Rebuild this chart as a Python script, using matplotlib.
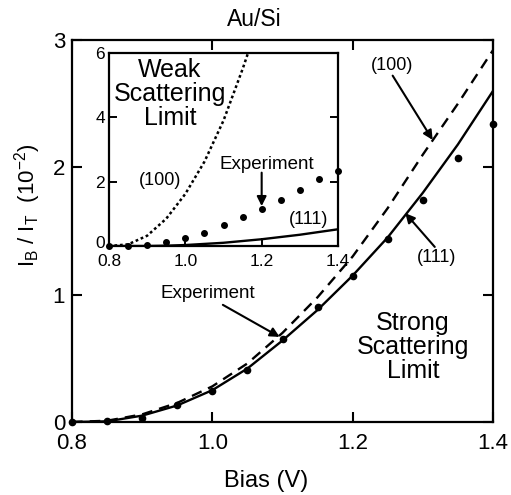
import matplotlib
matplotlib.use("Agg")
import matplotlib.pyplot as plt
import matplotlib.transforms as mtransforms
import numpy as np

plt.rcParams["font.family"] = ["Liberation Sans", "DejaVu Sans"]
plt.rcParams["mathtext.fontset"] = "custom"
plt.rcParams["mathtext.rm"] = "Liberation Sans"
plt.rcParams["mathtext.it"] = "Liberation Sans"

# experimental points (same in main and inset)
bias_exp = [0.80, 0.85, 0.90, 0.95, 1.00, 1.05, 1.10, 1.15, 1.20, 1.25, 1.30, 1.35, 1.40]
ratio_exp = [0.0, 0.005, 0.03, 0.13, 0.245, 0.41, 0.65, 0.90, 1.145, 1.44, 1.74, 2.07, 2.34]

# strong scattering limit (main)
bias_th = [0.80, 0.85, 0.90, 0.95, 1.00, 1.05, 1.10, 1.15, 1.20, 1.25, 1.30, 1.35, 1.40]
strong_111 = [0.0, 0.005, 0.05, 0.13, 0.25, 0.42, 0.64, 0.88, 1.15, 1.45, 1.80, 2.18, 2.60]
strong_100 = [0.0, 0.01, 0.06, 0.15, 0.28, 0.46, 0.70, 0.98, 1.30, 1.68, 2.10, 2.50, 2.92]

# weak scattering limit (inset)
bias_w100 = [0.80, 0.85, 0.90, 0.95, 1.00, 1.05, 1.10, 1.15, 1.17]
weak_100 = [0.0, 0.05, 0.32, 0.85, 1.62, 2.62, 3.9, 5.5, 6.2]
bias_w111 = [0.80, 0.90, 0.95, 1.00, 1.10, 1.20, 1.30, 1.40]
weak_111 = [0.0, 0.0, 0.01, 0.03, 0.10, 0.21, 0.35, 0.52]

fig = plt.figure(figsize=(5.11, 4.95), dpi=100)
W, H = 511, 495


def px_axes(l, t, r, b):
    return [l / W, (H - b) / H, (r - l) / W, (b - t) / H]


ax = fig.add_axes(px_axes(72, 40, 493, 422))
ax.plot(bias_th, strong_100, color="k", lw=1.7, ls=(0, (4.5, 3)))
ax.plot(bias_th, strong_111, color="k", lw=1.7)
ax.plot(bias_exp, ratio_exp, "o", color="k", ms=4.5, clip_on=False)
ax.set_xlim(0.8, 1.4)
ax.set_ylim(0, 3)
ax.set_xticks([0.8, 1.0, 1.2, 1.4])
ax.set_xticklabels(["0.8", "1.0", "1.2", "1.4"])
ax.set_yticks([0, 1, 2, 3])
ax.tick_params(direction="in", length=7, width=1.5, top=True, right=True,
               labelsize=16)
ax.tick_params(axis="x", pad=8)
ax.tick_params(axis="y", pad=5)
for s in ax.spines.values():
    s.set_linewidth(1.6)

arrow = dict(arrowstyle="-|>", color="k", lw=1.5, mutation_scale=14,
             shrinkA=0, shrinkB=0)
ax.text(1.256, 2.80, "(100)", fontsize=13, ha="center", va="center")
ax.annotate("", xy=(1.314, 2.215), xytext=(1.257, 2.72), arrowprops=arrow)
ax.text(1.320, 1.29, "(111)", fontsize=13, ha="center", va="center")
ax.annotate("", xy=(1.275, 1.64), xytext=(1.317, 1.375), arrowprops=arrow)
ax.text(0.994, 1.013, "Experiment", fontsize=13.5, ha="center", va="center")
ax.annotate("", xy=(1.096, 0.668), xytext=(1.015, 0.92), arrowprops=arrow)
ax.text(1.286, 0.59, "Strong\nScattering\nLimit", fontsize=18, ha="center",
        va="center", linespacing=1.0)

fig.text(254 / W, 1 - 20 / H, "Au/Si", fontsize=16.5, ha="center", va="center")
fig.text(266 / W, 1 - 481 / H, "Bias (V)", fontsize=17, ha="center", va="center")
fig.text(28 / W, 1 - 205 / H, r"$\mathregular{I_B\ /\ I_T\ \ (10^{-2})}$",
         fontsize=16, ha="center", va="center", rotation=90)

# inset
ins = fig.add_axes(px_axes(109, 53, 338, 246))
ins.plot(bias_w100, weak_100, color="k", lw=1.8, ls=(0, (1.1, 1.1)))
ins.plot(bias_w111, weak_111, color="k", lw=1.7)
ins.plot(bias_exp, ratio_exp, "o", color="k", ms=4, clip_on=False)
ins.set_xlim(0.8, 1.4)
ins.set_ylim(0, 6)
ins.set_xticks([0.8, 1.0, 1.2, 1.4])
ins.set_xticklabels(["0.8", "1.0", "1.2", "1.4"])
ins.set_yticks([0, 2, 4, 6])
ins.tick_params(direction="in", length=6, width=1.4, right=True,
                labelsize=12.5)
ins.tick_params(axis="x", pad=6)
ins.tick_params(axis="y", pad=3)
for s in ins.spines.values():
    s.set_linewidth(1.6)
# nudge the inset "0" up so it clears "0.8"
lab0 = ins.get_yticklabels()[0]
lab0.set_transform(lab0.get_transform()
                   + mtransforms.ScaledTranslation(0, 3 / 72, fig.dpi_scale_trans))

ins.text(0.96, 4.72, "Weak\nScattering\nLimit", fontsize=18, ha="center",
         va="center", linespacing=1.0)
ins.text(0.934, 2.05, "(100)", fontsize=13, ha="center", va="center")
ins.text(1.213, 2.52, "Experiment", fontsize=13.5, ha="center", va="center")
ins.annotate("", xy=(1.2, 1.24), xytext=(1.2, 2.28), arrowprops=arrow)
ins.text(1.322, 0.81, "(111)", fontsize=13, ha="center", va="center")

fig.savefig("out.png", dpi=100)
